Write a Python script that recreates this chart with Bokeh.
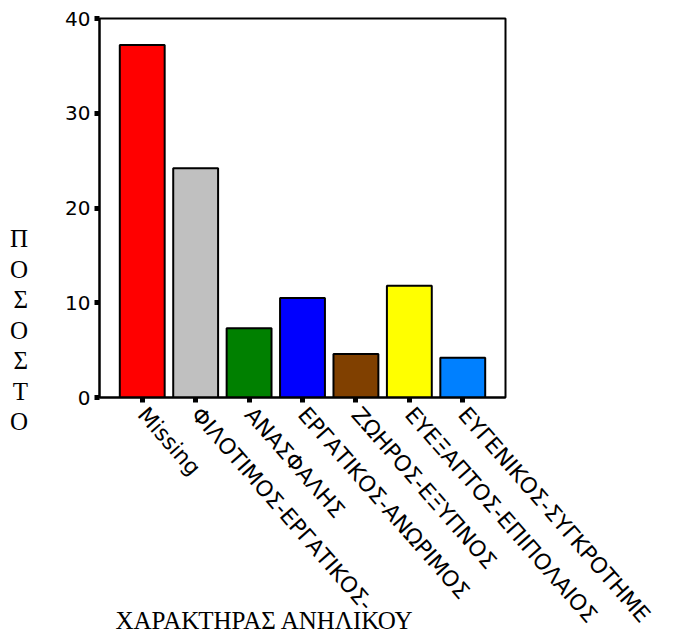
import math
from bokeh.plotting import figure
from bokeh.models import Range1d, FactorRange, FixedTicker, LinearAxis
from bokeh.embed import file_html
from bokeh.resources import INLINE

categories = ["Missing", "ΦΙΛΟΤΙΜΟΣ-ΕΡΓΑΤΙΚΟΣ-", "ΑΝΑΣΦΑΛΗΣ", "ΕΡΓΑΤΙΚΟΣ-ΑΝΩΡΙΜΟΣ",
              "ΖΩΗΡΟΣ-ΕΞΥΠΝΟΣ", "ΕΥΕΞΑΠΤΟΣ-ΕΠΙΠΟΛΑΙΟΣ", "ΕΥΓΕΝΙΚΟΣ-ΣΥΓΚΡΟΤΗΜΕ"]
percent = [37.2, 24.2, 7.3, 10.5, 4.6, 11.8, 4.2]
colors = ["#FF0000", "#C0C0C0", "#008000", "#0000FF", "#804000", "#FFFF00", "#0080FF"]
y_ticks = [0, 10, 20, 30, 40]
x_title = "ΧΑΡΑΚΤΗΡΑΣ ΑΝΗΛΙΚΟΥ"
y_title = "ΠΟΣΟΣΤΟ"

p = figure(x_range=FactorRange(*categories, range_padding=0.3, range_padding_units="absolute"),
           y_range=Range1d(0, 40),
           frame_width=406, frame_height=379,
           min_border_left=99, min_border_top=18, min_border_right=157, min_border_bottom=234,
           output_backend="svg", toolbar_location=None, tools="")

p.vbar(x=categories, top=percent, width=0.84, fill_color=colors,
       line_color="black", line_width=2)

p.xgrid.visible = False
p.ygrid.visible = False
p.outline_line_color = "black"
p.outline_line_width = 2
p.outline_line_alpha = 1
p.background_fill_color = "white"
p.border_fill_color = "white"

for ax in (p.xaxis[0], p.yaxis[0]):
    ax.axis_line_color = "black"
    ax.axis_line_width = 2
    ax.major_tick_in = 0
    ax.major_tick_out = 5
    ax.major_tick_line_width = 5
    ax.major_tick_line_color = "black"
    ax.major_tick_line_cap = "butt"
    ax.minor_tick_line_color = None
    ax.major_label_text_color = "black"

p.yaxis.ticker = FixedTicker(ticks=y_ticks)
p.yaxis.major_label_text_font = "DejaVu Sans"
p.yaxis.major_label_text_font_size = "20px"
p.yaxis.major_label_standoff = 4

xax = p.xaxis[0]
xax.major_label_orientation = -0.85
xax.major_label_text_font = "DejaVu Sans"
xax.major_label_text_font_size = "22px"
xax.major_label_standoff = 8

# y title: upright letters stacked vertically, pushed down with blank lines
yax = p.yaxis[0]
yax.axis_label = "\n" * 8 + "\n".join(y_title)
yax.axis_label_text_font = "Liberation Serif"
yax.axis_label_text_font_size = "25px"
yax.axis_label_text_font_style = "normal"
yax.axis_label_text_color = "black"
yax.axis_label_text_line_height = 1.13
yax.axis_label_standoff = 34
yax.axis_label_orientation = "horizontal"

# x title: carried by a tick-less axis on the right, pulled left under the category labels
tax = LinearAxis(ticker=FixedTicker(ticks=[]), axis_line_color=None,
                 major_tick_out=0, major_tick_in=0, major_tick_line_color=None,
                 minor_tick_line_color=None, major_label_standoff=0)
tax.axis_label = "\n" * 31 + x_title
tax.axis_label_text_font = "Liberation Serif"
tax.axis_label_text_font_size = "25px"
tax.axis_label_text_font_style = "normal"
tax.axis_label_text_color = "black"
tax.axis_label_text_line_height = 0.985
tax.axis_label_standoff = -390
tax.axis_label_orientation = "horizontal"
p.add_layout(tax, "right")

open("out.html", "w").write(file_html(p, INLINE))
